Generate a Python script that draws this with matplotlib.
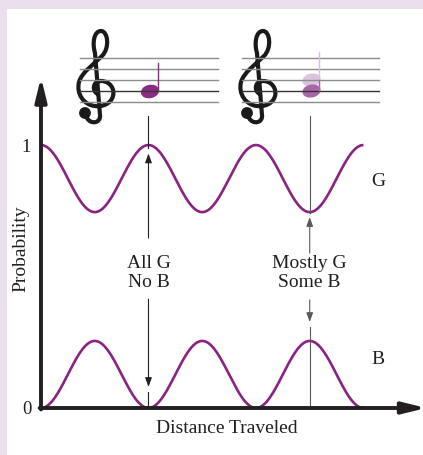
import matplotlib
matplotlib.use("Agg")
import matplotlib.pyplot as plt
import numpy as np
from matplotlib.patches import Rectangle, Ellipse, Circle, PathPatch
from matplotlib.path import Path

# --- chart values ---
n_periods = 3            # oscillations drawn along the distance axis
p_b_max = 0.255          # largest chance of finding B
prob_ticks = [0, 1]
prob_tick_labels = ["0", "1"]
marker_x = [1.0, 2.5]    # distance (in oscillation lengths) of the two marked points
marker_labels = ["All G\nNo B", "Mostly G\nSome B"]
curve_names = ["G", "B"]
curve_label_y = [0.86, 0.186]
x_max = 3.526
y_max = 1.236

ink = "#231f20"
purple = "#8b2282"
plt.rcParams["font.family"] = ["Liberation Serif", "DejaVu Serif"]

fig = plt.figure(figsize=(4.23, 4.55), dpi=100, facecolor="#e9dfed")
fig.patches.append(Rectangle((7 / 423, 0), 1, 446 / 455, transform=fig.transFigure,
                             facecolor="white", edgecolor="none", zorder=-5))

# decoration layer in pixel units (y grows downward)
deco = fig.add_axes([0, 0, 1, 1], zorder=0)
deco.set_xlim(0, 423)
deco.set_ylim(455, 0)
deco.axis("off")
deco.patch.set_alpha(0)

staff_y = [57.7, 68.7, 80, 91, 102]
for x0, x1 in [(80, 218), (242, 379)]:
    for i, y in enumerate(staff_y):
        deco.plot([x0, x1], [y, y], color="#333333" if i == 3 else "#8c8c8c", lw=1.0)


def clef(ox, oy):
    C = Path.CURVE4
    verts = [(-1, 3),
             (-7, 1), (-7, -10), (2, -10),
             (11, -10), (16, -2), (14, 5),
             (12, 13), (3, 16), (-4, 15),
             (-15, 14), (-23, 3), (-20, -9),
             (-17, -19), (-5, -27), (3, -35),
             (11, -43), (9, -60), (2, -60),
             (-5, -60), (-7, -48), (-4, -38),
             (1, 24),
             (2, 32), (-8, 34), (-12, 27)]
    codes = [Path.MOVETO] + [C] * 21 + [Path.LINETO] + [C] * 3
    verts = [(ox + vx, oy + vy) for vx, vy in verts]
    deco.add_patch(PathPatch(Path(verts, codes), facecolor="none", edgecolor="#1a1a1a",
                             lw=3.0, capstyle="round", joinstyle="round"))
    deco.add_patch(Circle((ox - 14, oy + 22), 5.2, color="#1a1a1a"))


clef(99, 91)
clef(261, 91)

# note 1: pure G
deco.add_patch(Ellipse((150, 91.5), 17, 12, angle=-12, color="#8b2a85"))
deco.plot([157.6, 157.6], [90, 63], color="#8b2a85", lw=1.0)
# note 2: mixed
deco.plot([318.8, 318.8], [90, 52], color="#dcc0dc", lw=1.0)
deco.add_patch(Ellipse((311.5, 80), 17, 11.5, angle=-12, color="#dcc5dc"))
deco.add_patch(Ellipse((311.5, 91), 17, 11.5, angle=-12, color="#a866a6"))
deco.plot([318.8, 318.8], [90, 80], color="#a866a6", lw=1.0)

# --- main plot ---
ax = fig.add_axes([41 / 423, 47 / 455, 379 / 423, 325 / 455], zorder=1)
ax.patch.set_alpha(0)
ax.set_xlim(0, x_max)
ax.set_ylim(0, y_max)
for s in ax.spines.values():
    s.set_visible(False)

distance = np.linspace(0, n_periods, 500)
prob_b = p_b_max * np.sin(np.pi * distance) ** 2
prob_g = 1 - prob_b
ax.plot(distance, prob_g, color=purple, lw=1.9, solid_capstyle="butt")
ax.plot(distance, prob_b, color=purple, lw=1.9, solid_capstyle="butt")

axis_kw = dict(arrowstyle="-|>,head_length=0.7,head_width=0.17", lw=2.8, color=ink,
               mutation_scale=20, shrinkA=0, shrinkB=0)
ax.annotate("", xy=(0, 1.018), xytext=(0, -0.0045), xycoords="axes fraction", arrowprops=axis_kw)
ax.annotate("", xy=(1.017, 0), xytext=(-0.0037, 0), xycoords="axes fraction", arrowprops=axis_kw)

ax.set_xticks([])
ax.set_yticks(prob_ticks)
ax.set_yticklabels(prob_tick_labels)
ax.tick_params(axis="y", length=0, pad=7, labelsize=13.5, labelcolor=ink)
ax.set_ylabel("Probability", fontsize=14, color=ink)
ax.yaxis.set_label_coords(-0.03, 0.489)
ax.set_xlabel("Distance Traveled", fontsize=14, color=ink)
ax.xaxis.set_label_coords(0.489, -0.038)

# vertical marker lines with small arrows
small_kw = dict(arrowstyle="-|>,head_length=0.55,head_width=0.2", lw=0.8,
                mutation_scale=10, shrinkA=0, shrinkB=0)
segments = [
    # (x, upper arrow from, to, top line from, to, lower arrow from, to, bottom line from, to, color)
    (marker_x[0], 0.646, 0.968, 0.99, 1.11, 0.414, 0.080, 0.062, 0.0, ink),
    (marker_x[1], 0.589, 0.726, 0.74, 1.11, 0.411, 0.327, 0.308, 0.0, "#58595b"),
]
for x, ua, ub, ta, tb, la, lb, ba, bb, c in segments:
    ax.annotate("", xy=(x, ub), xytext=(x, ua), arrowprops=dict(small_kw, color=c))
    ax.plot([x, x], [ta, tb], color=c, lw=0.8, clip_on=False)
    ax.annotate("", xy=(x, lb), xytext=(x, la), arrowprops=dict(small_kw, color=c))
    ax.plot([x, x], [ba, bb], color=c, lw=0.8, clip_on=False)

for x, lab in zip(marker_x, marker_labels):
    ax.text(x, 0.513, lab, ha="center", va="center", fontsize=14, linespacing=1.15, color=ink)

for name, y in zip(curve_names, curve_label_y):
    ax.text(3.135, y, name, ha="center", va="center", fontsize=14, color=ink)

fig.savefig("out.png", dpi=100, facecolor=fig.get_facecolor())
